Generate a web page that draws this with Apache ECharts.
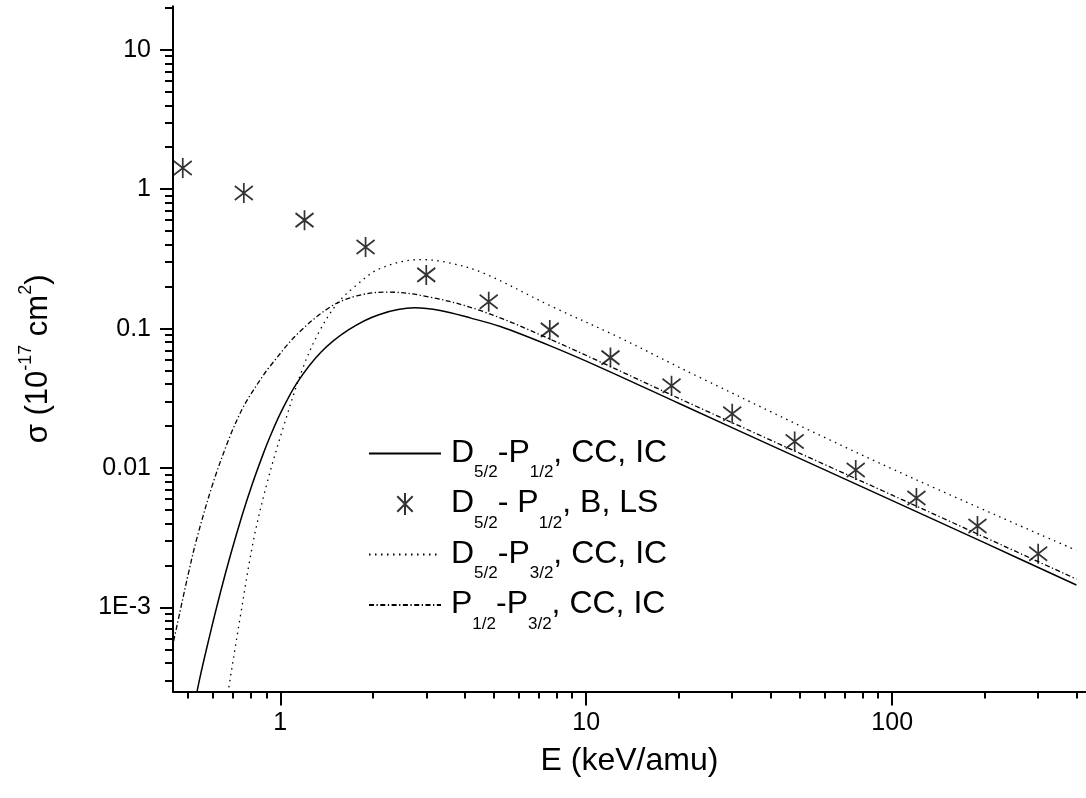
<!DOCTYPE html>
<html>
<head>
<meta charset="utf-8">
<script src="https://cdn.jsdelivr.net/npm/echarts@6/dist/echarts.min.js"></script>
<style>
  html, body { margin: 0; padding: 0; background: #fff; }
  #chart { width: 1086px; height: 798px; }
</style>
</head>
<body>
<div id="chart"></div>
<script>
// cross sections, 10^-17 cm^2 vs E (keV/amu)
const d52p12CC = [[0.53, 2.0e-4], [0.537, 2.63e-4], [0.589, 6.4e-4], [0.64, 1.33e-3], [0.687, 2.37e-3],
  [0.75, 4.57e-3], [0.808, 7.57e-3], [0.88, 0.0127], [0.927, 0.0169], [1.0, 0.0246], [1.134, 0.0409],
  [1.36, 0.068], [1.67, 0.098], [2.1, 0.126], [2.75, 0.141], [3.33, 0.135], [4.2, 0.119], [5.24, 0.1035],
  [7.63, 0.0752], [11.1, 0.0528], [20.3, 0.0288], [50, 0.0117], [91.4, 0.0064], [200, 0.00292], [400, 0.00145]];

const bornE = [0.48, 0.76, 1.2, 1.9, 3.0, 4.8, 7.6, 12, 19, 30, 48, 76, 120, 190, 300];
const bornSigma = [1.42, 0.94, 0.60, 0.385, 0.243, 0.156, 0.098, 0.062, 0.039, 0.0245, 0.0155, 0.0097, 0.0061, 0.00385, 0.00243];

const d52p32CC = [[0.67, 2.2e-4], [0.678, 2.63e-4], [0.74, 8.6e-4], [0.818, 3.06e-3], [0.905, 7.8e-3],
  [1.025, 0.0199], [1.19, 0.0535], [1.35, 0.098], [1.53, 0.150], [1.74, 0.198], [2.12, 0.27],
  [2.87, 0.313], [3.6, 0.295], [4.62, 0.25], [7.63, 0.146], [12.6, 0.088], [23.6, 0.0445],
  [91.4, 0.0108], [400, 0.00257]];

const p12p32CC = [[0.44, 4.8e-4], [0.45, 6.0e-4], [0.5, 1.73e-3], [0.535, 3.2e-3], [0.605, 8.0e-3],
  [0.687, 0.0172], [0.75, 0.0264], [0.798, 0.0334], [0.882, 0.0466], [0.927, 0.054], [1.134, 0.091],
  [1.456, 0.143], [1.78, 0.172], [2.23, 0.183], [3.02, 0.170], [4.5, 0.135], [7.63, 0.084],
  [23.6, 0.0269], [100, 0.0064], [400, 0.0016]];

// ticks
const xMajor = [1, 10, 100];
const xMinor = [0.5, 0.6, 0.7, 0.8, 0.9, 2, 3, 4, 5, 6, 7, 8, 9, 20, 30, 40, 50, 60, 70, 80, 90, 200, 300, 400];
const yMajor = [0.001, 0.01, 0.1, 1, 10];
const yMinor = [3e-4, 4e-4, 5e-4, 6e-4, 7e-4, 8e-4, 9e-4, 2e-3, 3e-3, 4e-3, 5e-3, 6e-3, 7e-3, 8e-3, 9e-3,
  0.02, 0.03, 0.04, 0.05, 0.06, 0.07, 0.08, 0.09, 0.2, 0.3, 0.4, 0.5, 0.6, 0.7, 0.8, 0.9,
  2, 3, 4, 5, 6, 7, 8, 9, 20];
const yLabels = { 0.001: '1E-3', 0.01: '0.01', 0.1: '0.1', 1: '1', 10: '10' };

const legendText = {
  'D5/2-P1/2, CC, IC': '{g|}{m|D}{s|5/2}{m|-P}{s|1/2}{m|, CC, IC}',
  'D5/2- P1/2, B, LS': '{g|}{m|D}{s|5/2}{m|- P}{s|1/2}{m|, B, LS}',
  'D5/2-P3/2, CC, IC': '{g|}{m|D}{s|5/2}{m|-P}{s|3/2}{m|, CC, IC}',
  'P1/2-P3/2, CC, IC': '{g|}{m|P}{s|1/2}{m|-P}{s|3/2}{m|, CC, IC}'
};

const FONT = 'Liberation Sans, Arial, sans-serif';
const X_MIN = 0.446, X_MAX = 430, Y_MIN = 2.5e-4, Y_MAX = 20.5;
const star = 'path://M9,0 L9,20 M2,3 L16,17 M2,17 L16,3';
const hidden = { opacity: 0 };

const chart = echarts.init(document.getElementById('chart'));

function xAxisBase(extra) {
  return Object.assign({
    type: 'log', logBase: 10, min: X_MIN, max: X_MAX, position: 'bottom',
    splitLine: { show: false }, minorTick: { show: false }
  }, extra);
}
function yAxisBase(extra) {
  return Object.assign({
    type: 'log', logBase: 10, min: Y_MIN, max: Y_MAX, position: 'left',
    splitLine: { show: false }, minorTick: { show: false }
  }, extra);
}

const option = {
  backgroundColor: '#fff',
  animation: false,
  grid: { left: 173, right: 0, top: 6.3, bottom: 106.5, containLabel: false },
  legend: {
    orient: 'vertical',
    left: 368,
    top: 437,
    itemWidth: 72,
    itemHeight: 22,
    itemGap: 6.5,
    padding: 0,
    data: [
      { name: 'D5/2-P1/2, CC, IC', itemStyle: hidden },
      { name: 'D5/2- P1/2, B, LS' },
      { name: 'D5/2-P3/2, CC, IC', itemStyle: hidden },
      { name: 'P1/2-P3/2, CC, IC', itemStyle: hidden }
    ],
    formatter: function (name) { return legendText[name]; },
    textStyle: {
      color: '#000',
      fontFamily: FONT,
      rich: {
        g: { width: 5 },
        m: { fontSize: 32, fontFamily: FONT, color: '#000', verticalAlign: 'top', padding: [11, 0, 0, 0] },
        s: { fontSize: 17, fontFamily: FONT, color: '#000', verticalAlign: 'top', padding: [38, 0, 0, 0] }
      }
    }
  },
  xAxis: [
    xAxisBase({
      name: 'E (keV/amu)',
      nameLocation: 'middle',
      nameGap: 54,
      nameTextStyle: { fontSize: 32, fontFamily: FONT, color: '#000' },
      axisLine: { show: true, lineStyle: { color: '#000', width: 2 } },
      axisTick: { show: true, length: 14, customValues: xMajor, lineStyle: { color: '#000', width: 2 } },
      axisLabel: {
        customValues: xMajor, margin: 19, fontSize: 25, fontFamily: FONT, color: '#000',
        formatter: function (v) { return String(Math.round(v)); }
      }
    }),
    xAxisBase({
      axisLine: { show: false },
      axisTick: { show: true, length: 7, customValues: xMinor, lineStyle: { color: '#000', width: 2 } },
      axisLabel: { show: false }
    })
  ],
  yAxis: [
    yAxisBase({
      name: '{m|σ (10}{p|-17}{m| cm}{p|2}{m|)}{g|}',
      nameLocation: 'middle',
      nameRotate: 90,
      nameGap: 119,
      nameTextStyle: {
        fontFamily: FONT, color: '#000',
        rich: {
          m: { fontSize: 31, fontFamily: FONT, color: '#000', verticalAlign: 'top', padding: [6, 0, 0, 0] },
          p: { fontSize: 18, fontFamily: FONT, color: '#000', verticalAlign: 'top' },
          g: { width: 20 }
        }
      },
      axisLine: { show: true, lineStyle: { color: '#000', width: 2 } },
      axisTick: { show: true, length: 13, customValues: yMajor, lineStyle: { color: '#000', width: 2 } },
      axisLabel: {
        customValues: yMajor, margin: 22, fontSize: 25, fontFamily: FONT, color: '#000',
        formatter: function (v) {
          const k = Object.keys(yLabels).find(function (key) { return Math.abs(Math.log10(+key) - Math.log10(v)) < 1e-6; });
          return k ? yLabels[k] : '';
        }
      }
    }),
    yAxisBase({
      axisLine: { show: false },
      axisTick: { show: true, length: 8, customValues: yMinor, lineStyle: { color: '#000', width: 2 } },
      axisLabel: { show: false }
    })
  ],
  series: [
    {
      name: 'D5/2-P1/2, CC, IC',
      type: 'line',
      data: d52p12CC,
      smooth: 0.35,
      showSymbol: false,
      symbol: 'none',
      lineStyle: { color: '#000', width: 1.5, type: 'solid' },
      itemStyle: { color: 'rgba(0,0,0,0)' }
    },
    {
      name: 'D5/2- P1/2, B, LS',
      type: 'scatter',
      data: bornE.map(function (e, i) { return [e, bornSigma[i]]; }),
      symbol: star,
      symbolSize: [18, 20],
      itemStyle: { color: 'rgba(0,0,0,0)', borderColor: '#000', borderWidth: 1.8 }
    },
    {
      name: 'D5/2-P3/2, CC, IC',
      type: 'line',
      data: d52p32CC,
      smooth: 0.35,
      showSymbol: false,
      symbol: 'none',
      lineStyle: { color: '#000', width: 1.3, type: [1.5, 4.5] },
      itemStyle: { color: 'rgba(0,0,0,0)' }
    },
    {
      name: 'P1/2-P3/2, CC, IC',
      type: 'line',
      data: p12p32CC,
      smooth: 0.35,
      showSymbol: false,
      symbol: 'none',
      lineStyle: { color: '#000', width: 1.3, type: [5, 2.5, 1.3, 2.5] },
      itemStyle: { color: 'rgba(0,0,0,0)' }
    }
  ]
};

chart.setOption(option);
</script>
</body>
</html>
